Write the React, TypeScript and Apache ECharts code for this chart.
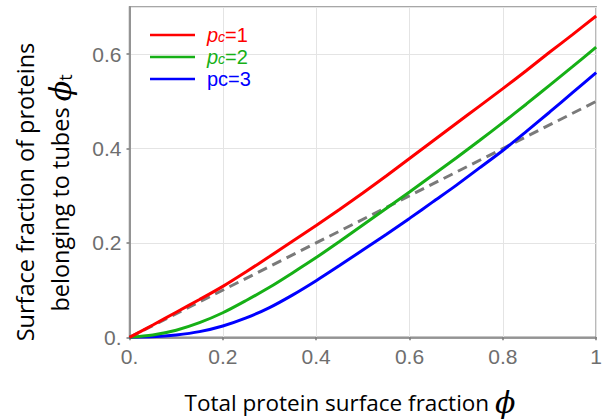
import React, { useEffect, useRef } from "react";
import * as echarts from "echarts";

const phi = [0, 0.05, 0.1, 0.15, 0.2, 0.25, 0.3, 0.35, 0.4, 0.45, 0.5, 0.55, 0.6, 0.65, 0.7, 0.75, 0.8, 0.85, 0.9, 0.95, 1.0];
const pc1 = [0, 0.026, 0.053, 0.080, 0.108, 0.139, 0.171, 0.204, 0.237, 0.271, 0.306, 0.342, 0.379, 0.416, 0.453, 0.490, 0.527, 0.565, 0.604, 0.642, 0.681];
const pc2 = [0, 0.005, 0.015, 0.031, 0.052, 0.078, 0.106, 0.137, 0.169, 0.203, 0.238, 0.273, 0.308, 0.344, 0.380, 0.417, 0.455, 0.494, 0.534, 0.574, 0.615];
const pc3 = [0, 0.001, 0.005, 0.012, 0.024, 0.041, 0.063, 0.090, 0.120, 0.152, 0.185, 0.218, 0.252, 0.287, 0.322, 0.359, 0.396, 0.436, 0.477, 0.519, 0.561];
const refX = [0, 1];
const refY = [0, 0.5];
const yTicks = [0, 0.2, 0.4, 0.6];

const RED = "#ff0000";
const GREEN = "#16b016";
const BLUE = "#0000ff";

const pairs = (xs: number[], ys: number[]) => xs.map((x, i) => [x, ys[i]]);

const fmt = (v: number) => {
  if (Math.abs(v) < 1e-9) return "0.";
  if (Math.abs(v - 1) < 1e-9) return "1";
  return v.toFixed(1);
};

export default function App() {
  const ref = useRef<HTMLDivElement>(null);
  useEffect(() => {
    const chart = echarts.init(ref.current!, null, { renderer: "svg" });
    const legendRows = [
      { color: RED, y: 35, rich: true, label: "{i|p}{s|c}{n|=1}" },
      { color: GREEN, y: 57, rich: true, label: "{i|p}{s|c}{n|=2}" },
      { color: BLUE, y: 79, rich: false, label: "pc=3" },
    ];
    const graphic: any[] = [];
    legendRows.forEach((r) => {
      graphic.push({
        type: "line",
        shape: { x1: 150, y1: r.y, x2: 195, y2: r.y },
        style: { stroke: r.color, lineWidth: 2.5 },
        z: 10,
      });
      graphic.push({
        type: "text",
        x: 207,
        y: r.y,
        z: 10,
        style: {
          text: r.label,
          fill: r.color,
          font: "20px 'Liberation Sans', Arial, sans-serif",
          lineHeight: 18,
          verticalAlign: "middle",
          rich: r.rich
            ? {
                i: { fill: r.color, fontStyle: "italic", fontSize: 20, fontFamily: "Liberation Sans", lineHeight: 18 },
                s: { fill: r.color, fontStyle: "italic", fontSize: 14, fontFamily: "Liberation Sans", lineHeight: 10, verticalAlign: "bottom" },
                n: { fill: r.color, fontSize: 20, fontFamily: "Liberation Sans", lineHeight: 18 },
              }
            : undefined,
        },
      });
    });
    graphic.push({
      type: "text",
      x: 350,
      y: 402,
      style: {
        text: "{t|Total protein surface fraction }{p|ϕ}",
        align: "center",
        verticalAlign: "middle",
        rich: {
          t: { fontSize: 22.5, fontFamily: "Open Sans", fill: "#000" },
          p: { fontSize: 30, fontStyle: "italic", fontFamily: "DejaVu Serif", fill: "#000" },
        },
      },
    });
    graphic.push({
      type: "text",
      x: 25,
      y: 192,
      rotation: Math.PI / 2,
      style: {
        text: "Surface fraction of proteins",
        align: "center",
        verticalAlign: "middle",
        font: "23.5px 'Open Sans', sans-serif",
        fill: "#000",
      },
    });
    graphic.push({
      type: "text",
      x: 60,
      y: 193,
      rotation: Math.PI / 2,
      style: {
        text: "{t|belonging to tubes }{p|ϕ}{s|t}",
        align: "center",
        verticalAlign: "middle",
        rich: {
          t: { fontSize: 23.5, fontFamily: "Open Sans", fill: "#000" },
          p: { fontSize: 30, fontStyle: "italic", fontFamily: "DejaVu Serif", fill: "#000" },
          s: { fontSize: 18, fontFamily: "Open Sans", fill: "#000", padding: [10, 0, 0, 0] },
        },
      },
    });

    const option: any = {
      animation: false,
      grid: {
        left: 129.5,
        top: 7,
        right: 3,
        bottom: 81.7,
        show: true,
        borderColor: "#8a8a8a",
        borderWidth: 1.5,
        backgroundColor: "transparent",
      },
      xAxis: {
        type: "value",
        min: 0,
        max: 1,
        interval: 0.2,
        axisLine: { show: true, lineStyle: { color: "#7a7a7a", width: 1.5 } },
        axisTick: { show: true, length: 3, lineStyle: { color: "#7a7a7a", width: 1.5 } },
        splitLine: { show: true, lineStyle: { color: "#e4e4e4", width: 1 } },
        axisLabel: {
          formatter: fmt,
          color: "#6e6e6e",
          fontSize: 21,
          fontFamily: "Liberation Sans",
          margin: 9,
          showMaxLabel: true,
          showMinLabel: true,
        },
      },
      yAxis: {
        type: "value",
        min: 0,
        max: 0.7,
        interval: 0.2,
        axisLine: { show: true, lineStyle: { color: "#7a7a7a", width: 1.5 } },
        axisTick: { show: true, length: 3, lineStyle: { color: "#7a7a7a", width: 1.5 } },
        splitLine: { show: true, lineStyle: { color: "#e4e4e4", width: 1 } },
        axisLabel: {
          formatter: (v: number) => (yTicks.some((t) => Math.abs(t - v) < 1e-9) ? fmt(v) : ""),
          color: "#6e6e6e",
          fontSize: 21,
          fontFamily: "Liberation Sans",
          margin: 8,
          showMaxLabel: false,
        },
      },
      series: [
        {
          type: "line",
          data: pairs(refX, refY),
          symbol: "none",
          lineStyle: { color: "#7a7a7a", width: 3, type: [10, 6] },
          z: 2,
        },
        {
          type: "line",
          data: pairs(phi, pc3),
          symbol: "none",
          smooth: 0.3,
          lineStyle: { color: BLUE, width: 3 },
          z: 3,
        },
        {
          type: "line",
          data: pairs(phi, pc2),
          symbol: "none",
          smooth: 0.3,
          lineStyle: { color: GREEN, width: 3 },
          z: 3,
        },
        {
          type: "line",
          data: pairs(phi, pc1),
          symbol: "none",
          smooth: 0.3,
          lineStyle: { color: RED, width: 3 },
          z: 3,
        },
      ],
      graphic,
    };
    chart.setOption(option);
    return () => chart.dispose();
  }, []);
  return <div ref={ref} style={{ width: 605, height: 419, position: "absolute", left: 0, top: 0 }} />;
}
